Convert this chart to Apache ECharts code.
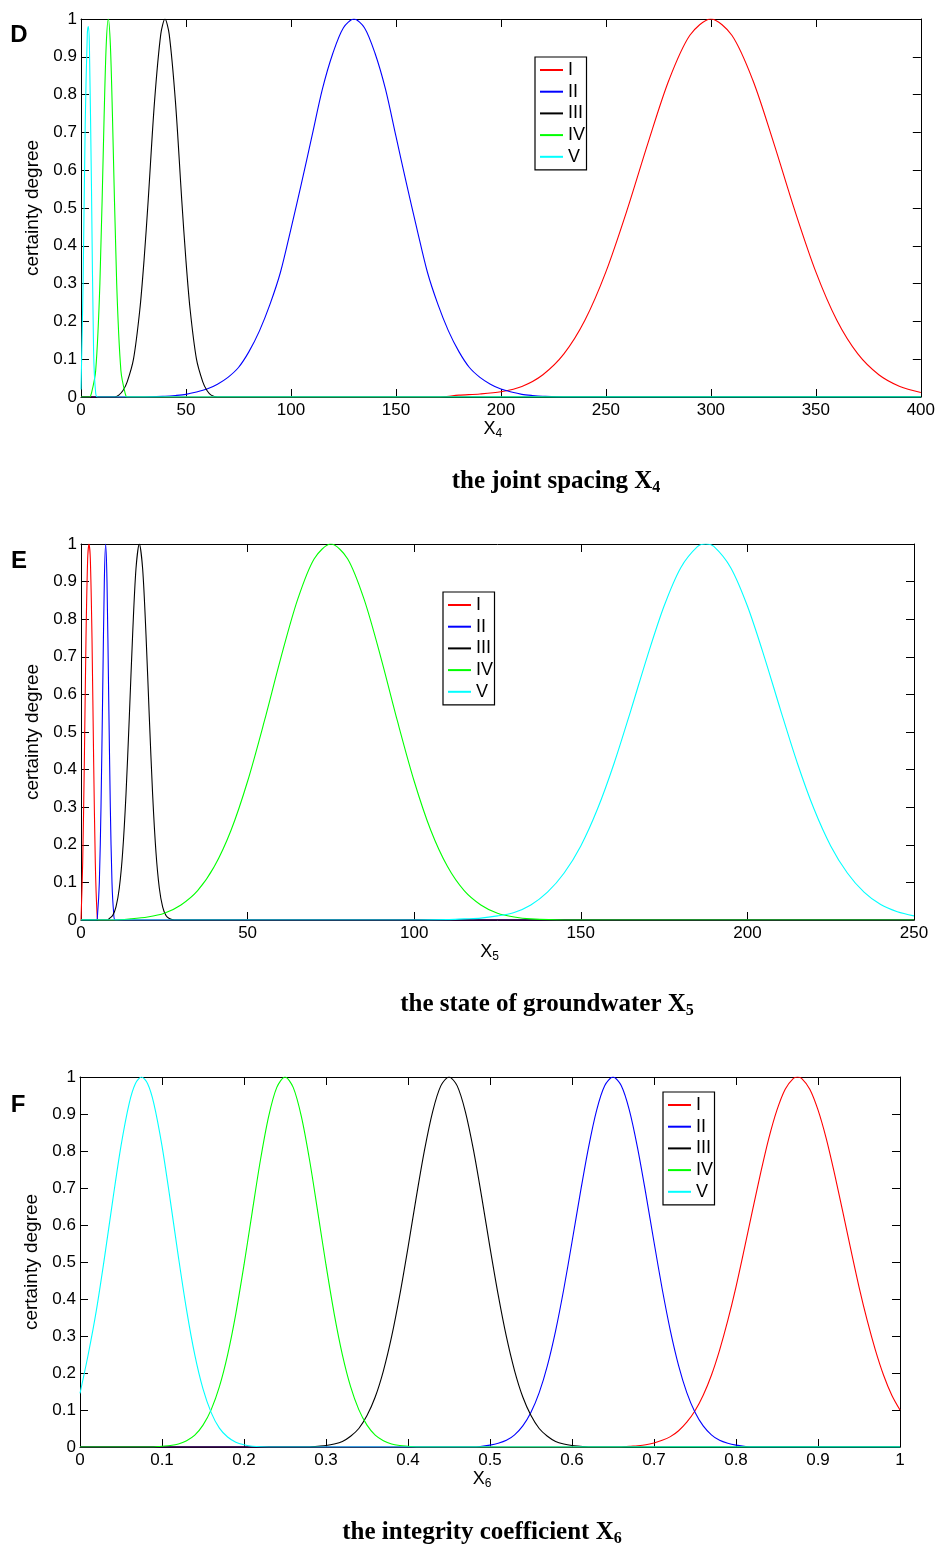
<!DOCTYPE html>
<html>
<head>
<meta charset="utf-8">
<title>certainty degree curves</title>
<script src="https://cdn.jsdelivr.net/npm/echarts@6/dist/echarts.min.js"></script>
<style>
  html, body { margin: 0; padding: 0; background: #fff; }
  #chart { width: 938px; height: 1549px; }
</style>
</head>
<body>
<div id="chart"></div>
<script>
// grade names, same in every panel
const grades = ['I', 'II', 'III', 'IV', 'V'];
const gradeColors = ['#ff0000', '#0000ff', '#000000', '#00ff00', '#00ffff'];

// D: joint spacing X4  -> [x, certainty degree]
const x4I = [[0, 0], [170, 0], [180, 0.005], [190, 0.008], [200, 0.014], [210, 0.028], [220, 0.059], [230, 0.114],
  [240, 0.203], [250, 0.331], [260, 0.493], [270, 0.671], [280, 0.838], [290, 0.957], [300, 1], [310, 0.957],
  [320, 0.838], [330, 0.671], [340, 0.493], [350, 0.331], [360, 0.203], [370, 0.114], [380, 0.059], [390, 0.028], [400, 0.012]];
const x4II = [[0, 0], [30, 0], [40, 0.002], [45, 0.004], [50, 0.007], [55, 0.013], [60, 0.021], [65, 0.034], [70, 0.052],
  [75, 0.078], [80, 0.12], [85, 0.175], [90, 0.245], [95, 0.33], [100, 0.445], [105, 0.565], [110, 0.69], [115, 0.815],
  [120, 0.91], [125, 0.977], [130, 1], [135, 0.977], [140, 0.91], [145, 0.815], [150, 0.69], [155, 0.565], [160, 0.445],
  [165, 0.33], [170, 0.245], [175, 0.175], [180, 0.12], [185, 0.078], [190, 0.052], [195, 0.034], [200, 0.021],
  [205, 0.013], [210, 0.007], [215, 0.004], [220, 0.002], [230, 0], [400, 0]];
const x4III = [[0, 0], [16, 0], [18, 0.005], [20, 0.017], [22, 0.04], [25, 0.1], [28, 0.23], [30, 0.36], [32, 0.52],
  [35, 0.78], [38, 0.96], [40, 1], [42, 0.96], [45, 0.78], [48, 0.52], [50, 0.36], [52, 0.23], [55, 0.1], [58, 0.04],
  [60, 0.017], [62, 0.005], [65, 0], [400, 0]];
const x4IV = [[0, 0], [4, 0], [5, 0.01], [7, 0.07], [9, 0.3], [11, 0.74], [12, 0.93], [13, 1], [14, 0.93], [15, 0.74],
  [17, 0.3], [19, 0.07], [21, 0.01], [22, 0], [400, 0]];
const x4V = [[0, 0.02], [1, 0.3], [2, 0.72], [3, 0.96], [3.5, 0.98], [4, 0.93], [5, 0.55], [6, 0.12], [7, 0.01], [8, 0], [400, 0]];

// E: state of groundwater X5
const x5I = [[0, 0], [0.5, 0.15], [1, 0.42], [1.5, 0.75], [2, 0.96], [2.4, 1], [2.8, 0.96], [3.3, 0.75], [3.8, 0.42],
  [4.3, 0.15], [4.8, 0.02], [5.2, 0], [250, 0]];
const x5II = [[0, 0], [4.6, 0], [5, 0.02], [5.5, 0.1], [6, 0.3], [6.5, 0.6], [7, 0.9], [7.4, 1], [7.8, 0.9], [8.3, 0.6],
  [8.8, 0.3], [9.3, 0.1], [9.8, 0.02], [10.3, 0], [250, 0]];
const x5III = [[0, 0], [8, 0], [8.5, 0.004], [9.5, 0.012], [10.5, 0.035], [11.5, 0.085], [12.5, 0.18], [13.5, 0.334],
  [14.5, 0.54], [15.5, 0.76], [16.5, 0.934], [17.5, 1], [18.5, 0.934], [19.5, 0.76], [20.5, 0.54], [21.5, 0.334],
  [22.5, 0.18], [23.5, 0.085], [24.5, 0.035], [25.5, 0.012], [26.5, 0.004], [28, 0], [250, 0]];
const x5IV = [[0, 0], [10, 0], [15, 0.003], [20, 0.008], [25, 0.018], [30, 0.04], [35, 0.078], [40, 0.142], [45, 0.238],
  [50, 0.369], [55, 0.528], [60, 0.698], [65, 0.852], [70, 0.961], [75, 1], [80, 0.961], [85, 0.852], [90, 0.698],
  [95, 0.528], [100, 0.369], [105, 0.238], [110, 0.142], [115, 0.078], [120, 0.04], [125, 0.018], [130, 0.008],
  [135, 0.003], [145, 0], [250, 0]];
const x5V = [[0, 0], [100, 0], [110, 0.001], [115, 0.003], [120, 0.005], [125, 0.011], [130, 0.02], [135, 0.04],
  [140, 0.074], [145, 0.125], [150, 0.197], [155, 0.295], [160, 0.417], [165, 0.557], [170, 0.702], [175, 0.835],
  [180, 0.937], [185, 0.993], [187.5, 1], [190, 0.993], [195, 0.937], [200, 0.835], [205, 0.702], [210, 0.557],
  [215, 0.417], [220, 0.295], [225, 0.197], [230, 0.125], [235, 0.074], [240, 0.041], [245, 0.022], [250, 0.011]];

// F: integrity coefficient X6
const x6I = [[0, 0], [0.66, 0], [0.67, 0.002], [0.68, 0.0035], [0.69, 0.006], [0.7, 0.011], [0.71, 0.018], [0.72, 0.028],
  [0.73, 0.044], [0.74, 0.067], [0.75, 0.098], [0.76, 0.14], [0.77, 0.194], [0.78, 0.262], [0.79, 0.342], [0.8, 0.433],
  [0.81, 0.534], [0.82, 0.638], [0.83, 0.74], [0.84, 0.834], [0.85, 0.911], [0.86, 0.967], [0.87, 0.996], [0.875, 1],
  [0.88, 0.996], [0.89, 0.967], [0.9, 0.911], [0.91, 0.834], [0.92, 0.74], [0.93, 0.638], [0.94, 0.534], [0.95, 0.433],
  [0.96, 0.342], [0.97, 0.262], [0.98, 0.194], [0.99, 0.14], [1, 0.1]];
const x6II = [[0, 0], [0.48, 0], [0.49, 0.002], [0.5, 0.005], [0.51, 0.01], [0.52, 0.018], [0.53, 0.033], [0.54, 0.057],
  [0.55, 0.094], [0.56, 0.147], [0.57, 0.22], [0.58, 0.314], [0.59, 0.427], [0.6, 0.554], [0.61, 0.685], [0.62, 0.808],
  [0.63, 0.91], [0.64, 0.977], [0.65, 1], [0.66, 0.977], [0.67, 0.91], [0.68, 0.808], [0.69, 0.685], [0.7, 0.554],
  [0.71, 0.427], [0.72, 0.314], [0.73, 0.22], [0.74, 0.147], [0.75, 0.094], [0.76, 0.057], [0.77, 0.033], [0.78, 0.018],
  [0.79, 0.01], [0.8, 0.005], [0.81, 0.002], [0.82, 0], [1, 0]];
const x6III = [[0, 0], [0.28, 0], [0.29, 0.002], [0.3, 0.004], [0.31, 0.008], [0.32, 0.015], [0.33, 0.029], [0.34, 0.05],
  [0.35, 0.085], [0.36, 0.135], [0.37, 0.206], [0.38, 0.298], [0.39, 0.411], [0.4, 0.539], [0.41, 0.674], [0.42, 0.801],
  [0.43, 0.906], [0.44, 0.976], [0.45, 1], [0.46, 0.976], [0.47, 0.906], [0.48, 0.801], [0.49, 0.674], [0.5, 0.539],
  [0.51, 0.411], [0.52, 0.298], [0.53, 0.206], [0.54, 0.135], [0.55, 0.085], [0.56, 0.05], [0.57, 0.029], [0.58, 0.015],
  [0.59, 0.008], [0.6, 0.004], [0.61, 0.002], [0.62, 0], [1, 0]];
const x6IV = [[0, 0], [0.09, 0], [0.1, 0.002], [0.11, 0.004], [0.12, 0.008], [0.13, 0.017], [0.14, 0.032], [0.15, 0.059],
  [0.16, 0.101], [0.17, 0.163], [0.18, 0.249], [0.19, 0.36], [0.2, 0.492], [0.21, 0.635], [0.22, 0.775], [0.23, 0.893],
  [0.24, 0.972], [0.25, 1], [0.26, 0.972], [0.27, 0.893], [0.28, 0.775], [0.29, 0.635], [0.3, 0.492], [0.31, 0.36],
  [0.32, 0.249], [0.33, 0.163], [0.34, 0.101], [0.35, 0.059], [0.36, 0.032], [0.37, 0.017], [0.38, 0.008], [0.39, 0.004],
  [0.4, 0.002], [0.41, 0], [1, 0]];
const x6V = [[0, 0.145], [0.01, 0.25], [0.02, 0.37], [0.03, 0.514], [0.04, 0.668], [0.05, 0.814], [0.06, 0.929],
  [0.0675, 0.982], [0.075, 1], [0.0825, 0.982], [0.09, 0.929], [0.1, 0.814], [0.11, 0.668], [0.12, 0.514], [0.13, 0.37],
  [0.14, 0.249], [0.15, 0.157], [0.16, 0.093], [0.17, 0.051], [0.18, 0.027], [0.19, 0.013], [0.2, 0.006], [0.21, 0.002],
  [0.23, 0], [1, 0]];

// axis ranges and the captions
const panelLetters = ['D', 'E', 'F'];
const panelSubs = ['4', '5', '6'];
const panelCaptions = ['the joint spacing X', 'the state of groundwater X', 'the integrity coefficient X'];
const xMaxes = [400, 250, 1];
const xSteps = [50, 50, 0.1];
const panelCurves = [
  [x4I, x4II, x4III, x4IV, x4V],
  [x5I, x5II, x5III, x5IV, x5V],
  [x6I, x6II, x6III, x6IV, x6V]
];

// layout (pixels)
const grids = [
  {left: 81, top: 19, width: 840, height: 378},
  {left: 81, top: 544, width: 833, height: 376},
  {left: 80, top: 1077, width: 820, height: 370}
];
const legendPos = [{left: 535, top: 57}, {left: 443, top: 592}, {left: 663, top: 1092}];
const letterPos = [[19, 35], [19, 561], [18, 1105]];
const captionPos = [[556, 482], [547, 1005], [482, 1533]];

const sans = 'Liberation Sans, Arial, Helvetica, sans-serif';
const serif = 'Liberation Serif, Times New Roman, serif';

const frameAxis = {
  axisLine: {show: true, onZero: false, lineStyle: {color: '#000', width: 1}},
  axisTick: {show: true, inside: true, length: 8, lineStyle: {color: '#000', width: 1}},
  splitLine: {show: false}
};

const xAxis = [];
const yAxis = [];
const series = [];
const legend = [];
const graphic = [];

panelCurves.forEach((curves, p) => {
  // bottom + top x axis
  xAxis.push(Object.assign({}, frameAxis, {
    gridIndex: p, type: 'value', min: 0, max: xMaxes[p], interval: xSteps[p],
    axisLabel: {color: '#000', fontSize: 17, fontFamily: sans, margin: 5},
    name: '{x|X}{s|' + panelSubs[p] + '}', nameLocation: 'middle', nameGap: 19,
    nameTextStyle: {
      padding: [0, 16, 0, 0],
      rich: {
        x: {fontSize: 18, lineHeight: 22, fontFamily: sans, color: '#000'},
        s: {fontSize: 12, lineHeight: 12, verticalAlign: 'bottom', fontFamily: sans, color: '#000'}
      }
    }
  }));
  xAxis.push(Object.assign({}, frameAxis, {
    gridIndex: p, type: 'value', position: 'top', min: 0, max: xMaxes[p], interval: xSteps[p],
    axisLabel: {show: false}
  }));
  // left + right y axis
  yAxis.push(Object.assign({}, frameAxis, {
    gridIndex: p, type: 'value', min: 0, max: 1, interval: 0.1,
    axisLabel: {color: '#000', fontSize: 17, fontFamily: sans, margin: 4},
    name: 'certainty degree', nameLocation: 'middle', nameGap: 33,
    nameTextStyle: {fontSize: 19, fontFamily: sans, color: '#000'}
  }));
  yAxis.push(Object.assign({}, frameAxis, {
    gridIndex: p, type: 'value', position: 'right', min: 0, max: 1, interval: 0.1,
    axisLabel: {show: false}
  }));

  curves.forEach((data, k) => {
    series.push({
      type: 'line',
      name: grades[k],
      xAxisIndex: 2 * p,
      yAxisIndex: 2 * p,
      data: data,
      symbol: 'none',
      smooth: 0.3,
      lineStyle: {color: gradeColors[k], width: 1.1},
      itemStyle: {color: gradeColors[k]}
    });
  });

  // legend keys are plain short lines
  legend.push({
    data: grades,
    orient: 'vertical',
    left: legendPos[p].left,
    top: legendPos[p].top,
    icon: 'rect',
    itemWidth: 23,
    itemHeight: 2,
    itemGap: 3.7,
    padding: [4, 1.5, 4, 5],
    borderColor: '#000',
    borderWidth: 1.2,
    backgroundColor: '#fff',
    selectedMode: false,
    textStyle: {color: '#000', fontSize: 18, fontFamily: sans}
  });

  graphic.push({
    type: 'text', x: letterPos[p][0], y: letterPos[p][1],
    style: {text: panelLetters[p], fill: '#000', fontFamily: sans, fontWeight: 'bold', fontSize: 24,
      align: 'center', verticalAlign: 'middle'}
  });
  graphic.push({
    type: 'text', x: captionPos[p][0], y: captionPos[p][1],
    style: {
      text: '{t|' + panelCaptions[p] + '}{s|' + panelSubs[p] + '}',
      align: 'center', verticalAlign: 'middle',
      rich: {
        t: {fontFamily: serif, fontWeight: 'bold', fontSize: 25, lineHeight: 28, fill: '#000'},
        s: {fontFamily: serif, fontWeight: 'bold', fontSize: 16, lineHeight: 16, verticalAlign: 'bottom', fill: '#000'}
      }
    }
  });
});

const myChart = echarts.init(document.getElementById('chart'), null, {renderer: 'canvas'});
myChart.setOption({
  animation: false,
  backgroundColor: '#fff',
  grid: grids,
  xAxis: xAxis,
  yAxis: yAxis,
  legend: legend,
  series: series,
  graphic: graphic
});
</script>
</body>
</html>
